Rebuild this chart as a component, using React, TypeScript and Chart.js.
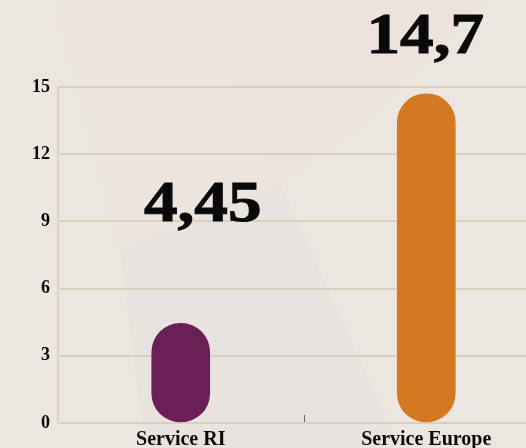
import React, { useEffect, useRef } from "react";
import { Chart, registerables } from "chart.js";

Chart.register(...registerables);

const categories = ["Service RI", "Service Europe"];
const values = [4.45, 14.7];
const valueLabels = ["4,45", "14,7"];
const barColors = ["#6b1f57", "#d47922"];
const yTicks = [0, 3, 6, 9, 12, 15];

const SERIF = '"Liberation Serif", "DejaVu Serif", serif';

const bigLabelPlugin = {
  id: "bigLabels",
  afterDatasetsDraw(chart: any) {
    const ctx = chart.ctx;
    const meta = chart.getDatasetMeta(0);
    const offsets = [
      { dx: 22, dy: -102 },
      { dx: -1, dy: -41 },
    ];
    ctx.save();
    ctx.fillStyle = "#0a0a0a";
    ctx.strokeStyle = "#0a0a0a";
    ctx.lineWidth = 1;
    ctx.lineJoin = "miter";
    ctx.font = `900 56px ${SERIF}`;
    ctx.textAlign = "center";
    ctx.textBaseline = "alphabetic";
    meta.data.forEach((bar: any, i: number) => {
      const o = offsets[i] || { dx: 0, dy: -20 };
      ctx.save();
      ctx.translate(bar.x + o.dx, bar.y + o.dy);
      ctx.scale(1.2, 1);
      ctx.fillText(valueLabels[i], 0, 0);
      ctx.strokeText(valueLabels[i], 0, 0);
      ctx.restore();
    });
    ctx.restore();
  },
  afterDraw(chart: any) {
    const ctx = chart.ctx;
    const xs = chart.scales.x;
    const bottom = chart.chartArea.bottom;
    ctx.save();
    ctx.strokeStyle = "#6a6660";
    ctx.lineWidth = 1;
    for (let i = 0; i < categories.length - 1; i++) {
      const x = Math.round((xs.getPixelForValue(i) + xs.getPixelForValue(i + 1)) / 2) + 0.5;
      ctx.beginPath();
      ctx.moveTo(x, bottom - 8);
      ctx.lineTo(x, bottom - 1);
      ctx.stroke();
    }
    ctx.restore();
  },
};

export default function App() {
  const ref = useRef<HTMLCanvasElement | null>(null);

  useEffect(() => {
    if (!ref.current) return;
    const chart = new Chart(ref.current, {
      type: "bar",
      data: {
        labels: categories,
        datasets: [
          {
            data: values,
            backgroundColor: barColors,
            borderWidth: 0,
            borderRadius: 29,
            borderSkipped: false,
            barThickness: 58,
          },
        ],
      },
      options: {
        animation: false,
        responsive: false,
        maintainAspectRatio: false,
        layout: { padding: { top: 87, left: 0, right: 0, bottom: 0 } },
        plugins: { legend: { display: false }, tooltip: { enabled: false } },
        scales: {
          x: {
            offset: true,
            grid: { display: false },
            border: { display: true, color: "#d9cfbc", width: 2 },
            ticks: {
              color: "#0a0a0a",
              font: { family: SERIF, size: 20, weight: "bold" },
              padding: -3,
            },
            afterFit: (s: any) => {
              s.height = 37;
            },
          },
          y: {
            min: 0,
            max: 15,
            afterBuildTicks: (s: any) => {
              s.ticks = yTicks.map((v) => ({ value: v }));
            },
            grid: { color: "#d9cfbc", lineWidth: 2, drawTicks: false },
            border: { display: true, color: "#ddd3c2", width: 2 },
            ticks: {
              color: "#0a0a0a",
              font: { family: SERIF, size: 18, weight: "bold" },
              padding: 8,
            },
            afterFit: (s: any) => {
              s.width = 58;
            },
          },
        },
      },
      plugins: [bigLabelPlugin],
    });
    return () => chart.destroy();
  }, []);

  return (
    <div
      style={{
        position: "absolute",
        left: 0,
        top: 0,
        width: 526,
        height: 448,
        overflow: "hidden",
        background: "#ece6e0",
      }}
    >
      <svg
        width={526}
        height={448}
        style={{ position: "absolute", left: 0, top: 0 }}
      >
        <rect x={0} y={0} width={526} height={448} fill="#ece6e0" />
        <path d="M55,0 L483,0 Q390,110 280,183 L120,248 Z" fill="#ede4de" />
        <path d="M190,0 L483,0 Q390,110 280,183 Z" fill="#eee3dc" />
        <path d="M120,248 L280,183 L400,448 L145,448 Z" fill="#e8e3de" />
      </svg>
      <canvas
        ref={ref}
        width={549}
        height={460}
        style={{ position: "absolute", left: 0, top: 0, width: 549, height: 460 }}
      />
    </div>
  );
}
